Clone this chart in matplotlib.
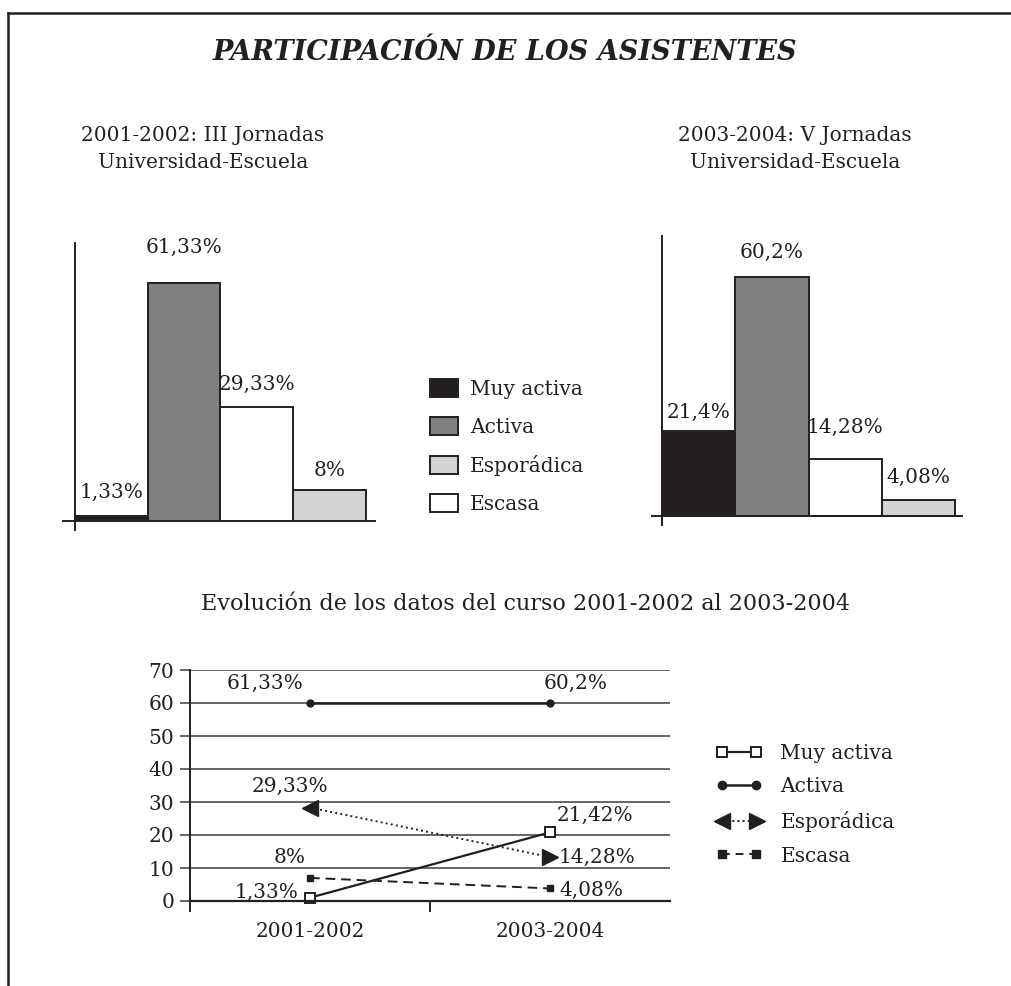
import matplotlib
matplotlib.use("Agg")
import matplotlib.pyplot as plt
from matplotlib.lines import Line2D
from matplotlib.patches import Patch
from matplotlib.legend_handler import HandlerBase

plt.rcParams["font.family"] = "DejaVu Serif"
INK = "#231f20"
plt.rcParams["text.color"] = INK
plt.rcParams["axes.edgecolor"] = INK
plt.rcParams["xtick.color"] = INK
plt.rcParams["ytick.color"] = INK

W, H = 1012, 986
FS = 14.5

# --- data ---------------------------------------------------------------
categories = ["Muy activa", "Activa", "Esporádica", "Escasa"]
legend_colors = ["#231f20", "#808080", "#d1d3d4", "#ffffff"]

# bars as drawn (left to right)
bar_colors = ["#231f20", "#808080", "#ffffff", "#d1d3d4"]
values_2002 = [1.33, 61.33, 29.33, 8]
labels_2002 = ["1,33%", "61,33%", "29,33%", "8%"]
values_2004 = [21.4, 60.2, 14.28, 4.08]
labels_2004 = ["21,4%", "60,2%", "14,28%", "4,08%"]

years = ["2001-2002", "2003-2004"]
muy_activa = [1.0, 20.8]
activa = [60, 60]
esporadica = [28.3, 13.3]
escasa = [7.0, 3.8]
muy_activa_lbl = ["1,33%", "21,42%"]
activa_lbl = ["61,33%", "60,2%"]
esporadica_lbl = ["29,33%", "14,28%"]
escasa_lbl = ["8%", "4,08%"]


def px_axes(fig, x0, y0, x1, y1):
    return fig.add_axes([x0 / W, 1 - y1 / H, (x1 - x0) / W, (y1 - y0) / H])


def bar_panel(ax, values, labels, dys, xlim, ylim):
    x = range(len(values))
    ax.bar(x, values, width=1.0, color=bar_colors, edgecolor=INK, linewidth=1.4)
    for xi, v, lab, dy in zip(x, values, labels, dys):
        ax.annotate(lab, (xi, v), xytext=(0, dy), textcoords="offset pixels",
                    ha="center", va="center", fontsize=FS)
    ax.set_xlim(*xlim)
    ax.set_ylim(*ylim)
    ax.spines[["top", "right"]].set_visible(False)
    ax.spines["left"].set_position(("data", -0.5))
    ax.spines["bottom"].set_position(("data", 0))
    ax.spines["left"].set_linewidth(1.4)
    ax.spines["bottom"].set_linewidth(1.4)
    ax.set_xticks([])
    ax.set_yticks([])
    ax.patch.set_visible(False)


class ArrowHandler(HandlerBase):
    # dotted line with a triangle pointing outwards at each end
    def create_artists(self, legend, orig_handle, xdescent, ydescent,
                       width, height, fontsize, trans):
        y = height / 2 - ydescent
        x0, x1 = -xdescent + 4, -xdescent + width - 4
        line = Line2D([x0, x1], [y, y], ls=":", color=INK, lw=1.4, transform=trans)
        a = Line2D([x0], [y], marker="<", ms=12, color=INK, ls="none", transform=trans)
        b = Line2D([x1], [y], marker=">", ms=12, color=INK, ls="none", transform=trans)
        return [line, a, b]


def main():
    fig = plt.figure(figsize=(W / 100, H / 100), dpi=100)

    # frame
    fig.add_artist(Line2D([8 / W, 8 / W], [0, 1 - 13 / H], transform=fig.transFigure,
                          color=INK, lw=1.8))
    fig.add_artist(Line2D([8 / W, 1], [1 - 13 / H, 1 - 13 / H], transform=fig.transFigure,
                          color=INK, lw=1.8))

    fig.text(505 / W, 1 - 52 / H, "PARTICIPACIÓN DE LOS ASISTENTES", ha="center",
             va="center", fontsize=19.5, fontweight="bold", fontstyle="italic")
    fig.text(203 / W, 1 - 149 / H, "2001-2002: III Jornadas\nUniversidad-Escuela",
             ha="center", va="center", fontsize=FS, linespacing=1.55)
    fig.text(795 / W, 1 - 149 / H, "2003-2004: V Jornadas\nUniversidad-Escuela",
             ha="center", va="center", fontsize=FS, linespacing=1.55)

    ax1 = px_axes(fig, 63, 243, 375, 530)
    bar_panel(ax1, values_2002, labels_2002, [23, 36, 23, 19],
              (-0.665, 3.624), (-2.32, 71.65))
    ax2 = px_axes(fig, 652, 236, 962, 525)
    bar_panel(ax2, values_2004, labels_2004, [19, 24, 32, 22],
              (-0.637, 3.595), (-2.27, 70.5))

    patches = [Patch(facecolor=c, edgecolor=INK, linewidth=1.4) for c in legend_colors]
    fig.legend(patches, categories, loc="upper left", bbox_to_anchor=(430 / W, 1 - 379 / H),
               frameon=False, borderpad=0, borderaxespad=0, fontsize=FS,
               handlelength=1.4, handleheight=1.0, handletextpad=0.6, labelspacing=0.9)

    fig.text(526 / W, 1 - 604 / H, "Evolución de los datos del curso 2001-2002 al 2003-2004",
             ha="center", va="center", fontsize=16)

    # line chart
    ax = px_axes(fig, 190, 670, 670, 901)
    x = [0, 1]
    ax.plot(x, activa, color=INK, lw=1.8, marker="o", ms=5, clip_on=False)
    ax.plot(x, esporadica, color=INK, lw=1.4, ls=":", clip_on=False)
    ax.plot(x[0], esporadica[0], marker="<", ms=11, color=INK, ls="none", clip_on=False)
    ax.plot(x[1], esporadica[1], marker=">", ms=11, color=INK, ls="none", clip_on=False)
    ax.plot(x, escasa, color=INK, lw=1.4, ls=(0, (5, 3)), marker="s", ms=5, clip_on=False)
    ax.plot(x, muy_activa, color=INK, lw=1.6, marker="s", ms=7, mfc="white",
            mec=INK, mew=1.4, clip_on=False)

    offsets = [
        (muy_activa, muy_activa_lbl, [(-44, 5), (45, 17)]),
        (activa, activa_lbl, [(-45, 20), (26, 20)]),
        (esporadica, esporadica_lbl, [(-20, 21), (47, 0)]),
        (escasa, escasa_lbl, [(-20, 20), (41, -2)]),
    ]
    for vals, labs, offs in offsets:
        for xi, v, lab, off in zip(x, vals, labs, offs):
            ax.annotate(lab, (xi, v), xytext=off, textcoords="offset pixels",
                        ha="center", va="center", fontsize=FS)

    ax.set_xlim(-0.5, 1.5)
    ax.set_ylim(0, 70)
    ax.set_yticks(range(0, 71, 10))
    ax.yaxis.grid(True, color="#58595b", lw=1.3)
    ax.set_axisbelow(True)
    ax.tick_params(axis="y", direction="out", length=7.5, width=1.3, color="#58595b",
                   pad=4, labelsize=FS)
    ax.set_xticks(x, years)
    ax.set_xticks([-0.5, 0.5], minor=True)
    ax.tick_params(axis="x", which="major", length=0, pad=15, labelsize=FS)
    ax.tick_params(axis="x", which="minor", direction="out", length=8, width=1.4)
    ax.spines[["top", "right"]].set_visible(False)
    ax.spines["left"].set_linewidth(1.4)
    ax.spines["bottom"].set_linewidth(1.6)
    ax.patch.set_visible(False)

    handles = [
        Line2D([], [], color=INK, lw=1.6, marker="s", ms=7, mfc="white", mec=INK, mew=1.4),
        Line2D([], [], color=INK, lw=1.8, marker="o", ms=6),
        Line2D([], [], color=INK, lw=1.4, ls=":"),
        Line2D([], [], color=INK, lw=1.4, ls=(0, (4, 3)), marker="s", ms=6),
    ]
    fig.legend(handles, categories, loc="upper left", bbox_to_anchor=(716 / W, 1 - 744 / H),
               frameon=False, borderpad=0, borderaxespad=0, fontsize=FS, numpoints=2,
               handlelength=2.3, handletextpad=0.9, labelspacing=0.72,
               handler_map={handles[2]: ArrowHandler()})

    fig.savefig("out.png", dpi=100)


if __name__ == "__main__":
    main()
